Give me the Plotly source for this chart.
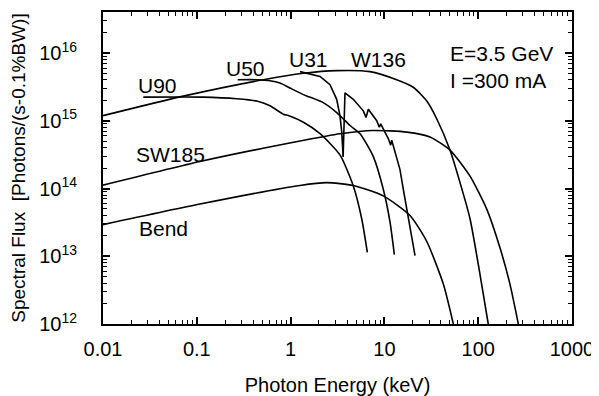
import plotly.graph_objects as go

# ---- data (photon energy in keV, flux in photons/(s-0.1%BW)) ----
w136_E = [0.01, 0.0718, 0.512, 1.36, 3.10, 7.02, 13.5, 20.3, 28.3, 36.1, 50.0, 64.0, 81.8, 104.5, 128]
w136_F = [1.19e15, 2.31e15, 4.03e15, 5.01e15, 5.49e15, 5.31e15, 4.03e15, 3.12e15, 1.95e15, 1.07e15,
          3.69e14, 1.22e14, 3.58e13, 5.42e12, 1.0e12]

sw185_E = [0.01, 0.108, 1.26, 3.36, 7.62, 17.3, 30.6, 50.0, 81.8, 123, 171, 218, 268]
sw185_F = [1.12e14, 2.50e14, 5.03e14, 6.44e14, 7.19e14, 6.80e14, 5.75e14, 3.69e14, 1.52e14, 5.0e13,
           1.32e13, 3.88e12, 1.0e12]

bend_E = [0.01, 0.108, 1.26, 2.43, 4.66, 9.73, 18.76, 28.3, 42.5, 54.3]
bend_F = [2.93e13, 5.90e13, 1.11e14, 1.22e14, 1.11e14, 7.79e13, 4.00e13, 1.65e13, 3.88e12, 1.0e12]

u90_E = [0.0269, 0.117, 0.266, 0.436, 0.603, 0.836, 0.945, 1.37, 2.06, 3.36, 4.66, 5.73, 6.58]
u90_F = [2.23e15, 2.23e15, 2.11e15, 1.95e15, 1.66e15, 1.25e15, 1.19e15, 9.48e14, 6.44e14, 3.13e14,
         1.09e14, 3.58e13, 1.14e13]

u50_E = [0.273, 0.436, 0.603, 0.771, 0.985, 1.485, 1.68, 2.23, 3.10, 4.30, 5.50, 7.62, 9.73, 11.47, 12.76]
u50_F = [4.03e15, 4.03e15, 3.90e15, 3.60e15, 3.04e15, 2.31e15, 2.18e15, 1.85e15, 1.32e15, 8.50e14,
         6.44e14, 2.95e14, 9.73e13, 3.21e13, 1.06e13]

u31_E = [1.26, 2.06, 2.63, 3.10, 3.36, 3.51, 3.63, 3.80, 4.66, 5.96, 6.37, 6.74, 8.28, 8.83, 9.14,
         11.0, 11.67, 11.97, 13.52, 14.66, 15.91, 18.76, 21.2]
u31_F = [5.31e15, 4.50e15, 3.41e15, 2.07e15, 1.19e15, 6.80e14, 2.92e14, 2.58e15, 2.07e15, 1.40e15,
         1.12e15, 1.48e15, 1.00e15, 8.02e14, 8.99e14, 5.46e14, 4.36e14, 5.15e14, 2.83e14, 1.90e14,
         9.73e13, 2.87e13, 1.02e13]

x_tickvals = [0.01, 0.1, 1, 10, 100, 1000]
x_ticktext = ["0.01", "0.1", "1", "10", "100", "1000"]
y_tickvals = [1e12, 1e13, 1e14, 1e15, 1e16]
y_ticktext = ["10<sup>12</sup>", "10<sup>13</sup>", "10<sup>14</sup>", "10<sup>15</sup>", "10<sup>16</sup>"]

FONT = "Liberation Sans, Arial, sans-serif"

fig = go.Figure()
smooth = [(w136_E, w136_F), (sw185_E, sw185_F), (bend_E, bend_F), (u90_E, u90_F), (u50_E, u50_F)]
for E, F in smooth:
    fig.add_trace(go.Scatter(x=E, y=F, mode="lines",
                             line=dict(color="black", width=1.6, shape="spline", smoothing=0.6),
                             hoverinfo="skip"))
fig.add_trace(go.Scatter(x=u31_E, y=u31_F, mode="lines",
                         line=dict(color="black", width=1.6), hoverinfo="skip"))

x_minor = [m * 10 ** d for d in range(-2, 3) for m in range(2, 10)]
y_minor = [m * 10 ** d for d in range(12, 16) for m in range(2, 10)] + [2e16, 3e16]

axis_common = dict(showline=True, linewidth=2, linecolor="black", mirror="allticks",
                   ticks="inside", ticklen=7, tickwidth=1.5, tickcolor="black",
                   showgrid=False, zeroline=False)

fig.update_xaxes(type="log", range=[-2, 3], tickmode="array", tickvals=x_tickvals, ticktext=x_ticktext,
                 minor=dict(tickmode="array", tickvals=x_minor, ticks="inside", ticklen=4, tickwidth=1,
                            tickcolor="black", showgrid=False),
                 title=dict(text="Photon Energy (keV)", standoff=20, font=dict(size=20)),
                 tickfont=dict(size=20), ticklabelstandoff=6, **axis_common)
fig.update_yaxes(type="log", range=[12, 16.605], tickmode="array", tickvals=y_tickvals, ticktext=y_ticktext,
                 minor=dict(tickmode="array", tickvals=y_minor, ticks="inside", ticklen=4, tickwidth=1,
                            tickcolor="black", showgrid=False),
                 title=dict(text="Spectral Flux \u00a0[Photons/(s-0.1%BW)]", standoff=9, font=dict(size=19)),
                 tickfont=dict(size=20), ticklabelstandoff=20, **axis_common)

# label positions in paper coordinates
ann = [
    ("U90", 0.117, 0.766, "center"),
    ("U50", 0.303, 0.819, "center"),
    ("U31", 0.439, 0.847, "center"),
    ("W136", 0.588, 0.847, "center"),
    ("SW185", 0.143, 0.544, "center"),
    ("Bend", 0.130, 0.306, "center"),
    ("E=3.5 GeV", 0.7356, 0.866, "left"),
    ("I =300 mA", 0.7356, 0.780, "left"),
]
for text, x, y, xa in ann:
    fig.add_annotation(text=text, x=x, y=y, xref="paper", yref="paper", xanchor=xa, yanchor="middle",
                       showarrow=False, font=dict(size=21, family=FONT, color="black"))

# page body has an 8 px default margin, so the figure is shrunk by 8 px
fig.update_layout(width=591, height=388, margin=dict(l=95, r=27, t=2, b=61, pad=0),
                  paper_bgcolor="white", plot_bgcolor="white", showlegend=False,
                  font=dict(family=FONT, size=20, color="black"))

fig.write_html("out.html")
